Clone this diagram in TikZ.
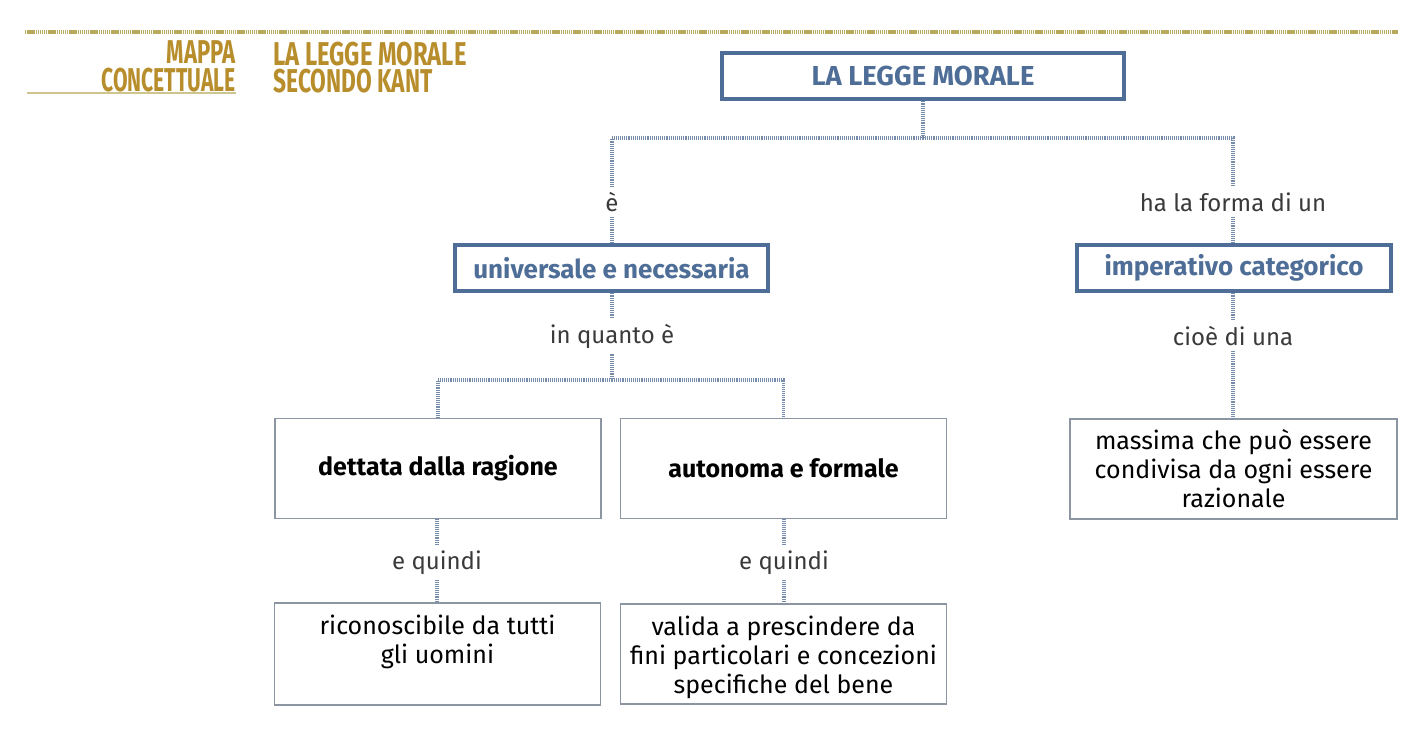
\documentclass[tikz,border=0pt]{standalone}
\usepackage{fontspec}
\setmainfont{Fira Sans}
\usepackage{graphicx}
\usetikzlibrary{positioning}
\definecolor{mapgold}{RGB}{184,142,44}
\definecolor{rulegold}{RGB}{184,170,92}
\definecolor{linegold}{RGB}{206,196,142}
\definecolor{keyblue}{RGB}{78,110,152}
\definecolor{boxgrey}{RGB}{140,150,162}
\definecolor{linkblue}{RGB}{118,140,170}
\definecolor{labgrey}{RGB}{58,58,58}
\newcommand{\narrow}[2][0.68]{\scalebox{#1}[1]{#2}}
\newcommand{\toproom}{\rule{0pt}{13.5pt}}
\tikzset{
  link/.style={linkblue,line width=1.6pt,dash pattern=on 0.5pt off 0.45pt},
  keybox/.style={draw=keyblue,line width=1.6pt,fill=white,text=keyblue,
                 font=\fontsize{13}{15}\selectfont\bfseries,minimum height=23pt,inner sep=3pt},
  plainbox/.style={draw=boxgrey,line width=0.9pt,fill=white,align=center,
                   font=\fontsize{12.5}{14.5}\selectfont,minimum width=163pt,minimum height=50pt,inner sep=2pt},
  lab/.style={text=labgrey,font=\fontsize{12}{14}\selectfont,inner sep=2.5pt},
  heading/.style={text=mapgold,font=\fontsize{16.5}{18}\selectfont\bfseries,inner sep=0pt},
}

\begin{document}
\begin{tikzpicture}[x=0.5pt,y=-0.5pt]
  \path[use as bounding box] (0,0) rectangle (1422,728);

  % header
  \draw[rulegold,line width=1.7pt,dash pattern=on 0.7pt off 0.35pt] (25,32) -- (1398,32);
  \draw[linegold,line width=1.2pt] (27,93) -- (236,93);
  \node[heading,anchor=base east] (mappa) at (236,63) {\narrow[0.67]{MAPPA}};
  \node[heading,anchor=base east] (concett) at (236,91) {\narrow[0.64]{CONCETTUALE}};
  \node[heading,anchor=base west] (titolo) at (273,65) {\narrow[0.72]{LA LEGGE MORALE}};
  \node[heading,anchor=base west] (kant) at (273,92) {\narrow[0.69]{SECONDO KANT}};

  % concepts
  \node[keybox,minimum width=201pt,font=\fontsize{13.7}{15}\selectfont\bfseries] (legge) at (923,76) {LA LEGGE MORALE};
  \node[keybox,minimum width=156.5pt] (univ) at (611.5,268) {universale e necessaria};
  \node[keybox,minimum width=157pt] (imper) at (1234,268) {imperativo categorico};

  \node[plainbox,font=\fontsize{12.5}{14.5}\selectfont\bfseries] (dettata) at (438,468.5) {dettata dalla ragione};
  \node[plainbox,font=\fontsize{12.5}{14.5}\selectfont\bfseries] (autonoma) at (783.5,468.5) {autonoma e formale};
  \node[plainbox] (ricon) at (437.5,654)
    {\toproom riconoscibile da tutti\\gli uomini\\\strut};
  \node[plainbox] (valida) at (783.5,654)
    {\toproom valida a prescindere da\\fini particolari e concezioni\\specifiche del bene};
  \node[plainbox,minimum width=163.5pt] (massima) at (1233.5,469)
    {massima che può essere\\condivisa da ogni essere\\razionale};

  % link words
  \node[lab] (e) at (612,202) {è};
  \node[lab] (forma) at (1233,202) {ha la forma di un};
  \node[lab] (quanto) at (612,336) {in quanto è};
  \node[lab] (cioe) at (1233,336) {cioè di una};
  \node[lab] (quindiA) at (437,563) {e quindi};
  \node[lab] (quindiB) at (784,563) {e quindi};

  \coordinate (split1) at (923,138);
  \coordinate (split2) at (612,380);

  % connectors
  \draw[link] (legge.south) -- (split1);
  \draw[link] (split1) -| (e.north);
  \draw[link] (split1) -| (forma.north);
  \draw[link] (e.south) -- (e.south |- univ.north);
  \draw[link] (forma.south) -- (forma.south |- imper.north);
  \draw[link] (univ.south -| quanto) -- (quanto.north);
  \draw[link] (quanto.south) -- (split2);
  \draw[link] (split2) -| (dettata.north);
  \draw[link] (split2) -| (autonoma.north);
  \draw[link] (dettata.south -| quindiA) -- (quindiA.north);
  \draw[link] (quindiA.south) -- (quindiA.south |- ricon.north);
  \draw[link] (autonoma.south -| quindiB) -- (quindiB.north);
  \draw[link] (quindiB.south) -- (quindiB.south |- valida.north);
  \draw[link] (imper.south -| cioe) -- (cioe.north);
  \draw[link] (cioe.south) -- (cioe.south |- massima.north);
\end{tikzpicture}
\end{document}
